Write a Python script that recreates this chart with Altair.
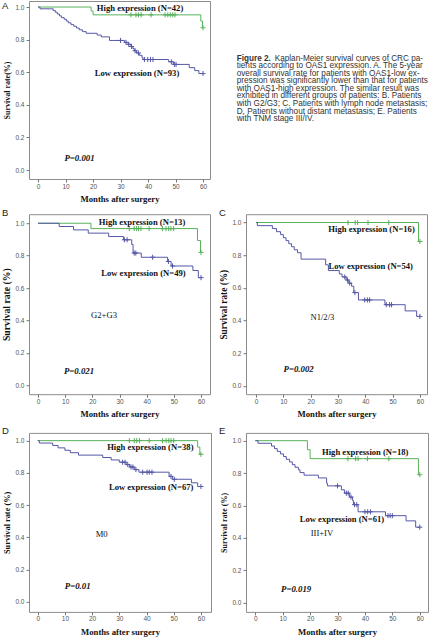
import altair as alt
import pandas as pd

GREEN = "#58b25a"
BLUE = "#5558a6"
SERIF = "Liberation Serif"
SANS = "Liberation Sans"

# ---------------- data ----------------
# Panel A
A_hi_t = [0, 19.3, 20.0, 59.2, 59.8, 60]
A_hi_s = [1.0, 0.976, 0.952, 0.914, 0.873, 0.873]
A_hi_c = [33.8, 35.6, 36.5, 37.5, 41.1, 46.2, 47.2, 48.1, 49.0, 49.8, 60]
A_lo_t = [0, 0.7, 5.5, 6.3, 7.0, 7.8, 8.5, 9.5, 10.3, 11.0, 12.0, 13.0, 14.0, 15.0, 16.2, 17.5,
          21.5, 23.0, 26.0, 31.5, 32.8, 33.8, 34.5, 35.0, 35.8, 36.8, 37.8, 38.2, 47.5, 49.2,
          55.0, 57.0, 58.5, 60]
A_lo_s = [1.0, 0.989, 0.978, 0.968, 0.957, 0.946, 0.935, 0.925, 0.914, 0.903, 0.892, 0.882,
          0.871, 0.860, 0.849, 0.839, 0.828, 0.817, 0.795, 0.783, 0.771, 0.758, 0.745, 0.732,
          0.718, 0.704, 0.690, 0.678, 0.664, 0.648, 0.628, 0.610, 0.592, 0.592]
A_lo_c = [30.0, 32.0, 33.0, 34.0, 35.3, 36.5, 38.7, 39.9, 40.9, 41.8, 48.5, 49.6, 50.2, 60]

# Panel B
B_hi_t = [0, 19.5, 58.7, 59.8, 60]
B_hi_s = [1.0, 0.967, 0.893, 0.820, 0.820]
B_hi_c = [33.6, 35.4, 36.3, 37.0, 37.9, 40.9, 45.8, 47.1, 48.1, 48.9, 49.9, 60]
B_lo_t = [0, 7.8, 13.1, 18.5, 26.0, 31.5, 34.5, 35.0, 38.0, 47.7, 49.0, 57.0, 59.0, 60]
B_lo_s = [1.0, 0.980, 0.959, 0.939, 0.918, 0.898, 0.869, 0.816, 0.790, 0.764, 0.736, 0.708,
          0.664, 0.664]
B_lo_c = [31.8, 32.8, 35.4, 36.0, 42.2, 48.0, 49.5, 60]

# Panel C
C_hi_t = [0, 59.5, 60]
C_hi_s = [1.0, 0.884, 0.884]
C_hi_c = [33.7, 36.3, 37.2, 41.0, 48.6, 60]
C_lo_t = [0, 0.5, 6.0, 7.5, 9.0, 10.0, 11.0, 12.0, 13.0, 14.0, 15.2, 16.5, 25.5, 26.5, 30.5,
          31.5, 33.0, 34.0, 35.0, 35.8, 37.5, 47.2, 54.6, 58.8, 60]
C_lo_s = [1.0, 0.981, 0.963, 0.944, 0.926, 0.907, 0.889, 0.870, 0.852, 0.833, 0.815, 0.776,
          0.741, 0.706, 0.685, 0.667, 0.648, 0.629, 0.610, 0.571, 0.526, 0.497, 0.459, 0.425,
          0.425]
C_lo_c = [32.5, 33.5, 34.3, 36.2, 39.8, 40.8, 41.6, 47.7, 48.9, 49.6, 60]

# Panel D
D_hi_t = [0, 58.8, 59.6, 60]
D_hi_s = [1.0, 0.960, 0.915, 0.915]
D_hi_c = [33.7, 35.5, 36.4, 37.4, 41.0, 45.9, 47.2, 48.2, 49.0, 50.0, 60]
D_lo_t = [0, 0.6, 5.5, 7.5, 10.0, 12.0, 15.0, 23.9, 27.0, 30.0, 32.5, 33.8, 35.5, 37.2, 48.3,
          49.5, 56.5, 58.8, 60]
D_lo_s = [1.0, 0.985, 0.970, 0.955, 0.940, 0.925, 0.910, 0.895, 0.880, 0.866, 0.851, 0.836,
          0.820, 0.804, 0.778, 0.760, 0.738, 0.715, 0.715]
D_lo_c = [31.2, 32.1, 33.1, 34.3, 35.0, 36.1, 38.6, 40.2, 41.0, 42.0, 49.0, 50.2, 60]

# Panel E
E_hi_t = [0, 19.0, 20.0, 59.5, 60]
E_hi_s = [1.0, 0.944, 0.889, 0.790, 0.790]
E_hi_c = [33.8, 36.6, 37.5, 40.9, 48.7, 60]
E_lo_t = [0, 1.0, 5.9, 7.0, 8.0, 9.2, 10.3, 11.3, 12.5, 13.5, 14.5, 15.7, 16.3, 17.8, 23.0,
          26.0, 26.3, 31.4, 32.5, 34.4, 35.5, 35.8, 37.5, 47.5, 55.0, 58.5, 60]
E_lo_s = [1.0, 0.984, 0.967, 0.951, 0.934, 0.918, 0.902, 0.885, 0.869, 0.852, 0.836, 0.820,
          0.803, 0.787, 0.770, 0.738, 0.721, 0.697, 0.676, 0.652, 0.630, 0.605, 0.561, 0.537,
          0.505, 0.466, 0.466]
E_lo_c = [30.0, 33.2, 33.9, 34.9, 36.2, 37.0, 40.0, 41.0, 42.0, 48.4, 49.2, 50.0, 60]

# annotations: text, x (months), y (survival), kind
A_ann = [("High expression (N=42)", 37.1, 0.992, "b"), ("Low expression (N=93)", 36.0, 0.595, "b"),
         ("P=0.001", 15.1, 0.075, "p")]
B_ann = [("High expression (N=13)", 38.3, 1.008, "b"), ("Low expression (N=49)", 38.8, 0.691, "b"),
         ("G2+G3", 24.3, 0.432, "n"), ("P=0.021", 15.1, 0.088, "p")]
C_ann = [("High expression (N=16)", 42.3, 0.961, "b"), ("Low expression (N=54)", 42.0, 0.734, "b"),
         ("N1/2/3", 24.3, 0.419, "n"), ("P=0.002", 15.6, 0.104, "p")]
D_ann = [("High expression (N=38)", 41.4, 0.963, "b"), ("Low expression (N=67)", 41.7, 0.714, "b"),
         ("M0", 23.5, 0.42, "n"), ("P=0.01", 14.7, 0.10, "p")]
E_ann = [("High expression (N=18)", 40.1, 0.932, "b"), ("Low expression (N=61)", 31.6, 0.514, "b"),
         ("III+IV", 24.3, 0.432, "n"), ("P=0.019", 14.9, 0.0845, "p")]

x_ticks = [0, 10, 20, 30, 40, 50, 60]
y_ticks = [0.0, 0.2, 0.4, 0.6, 0.8, 1.0]

caption_bold = "Figure 2."
caption_first = "Kaplan-Meier survival curves of CRC pa-"
caption_lines = [
    "tients according to OAS1 expression. A. The 5-year",
    "overall survival rate for patients with OAS1-low ex-",
    "pression was significantly lower than that for patients",
    "with OAS1-high expression. The similar result was",
    "exhibited in different groups of patients: B. Patients",
    "with G2/G3; C. Patients with lymph node metastasis;",
    "D. Patients without distant metastasis; E. Patients",
    "with TNM stage III/IV.",
]


def level(ts, ss, t):
    v = ss[0]
    for ti, si in zip(ts, ss):
        if ti <= t:
            v = si
    return v


def panel(letter, hi, lo, ann, ytitle, ytsize, xdom, ydom, w, h, letter_y):
    xs = alt.X("t:Q", scale=alt.Scale(domain=xdom, nice=False, zero=False),
               axis=alt.Axis(values=x_ticks, title="Months after surgery", titleFontSize=8.7,
                             titlePadding=5, labelPadding=1, labelOverlap=False,
                             labelFlush=False))
    ys = alt.Y("s:Q", scale=alt.Scale(domain=ydom, nice=False, zero=False),
               axis=alt.Axis(values=y_ticks, format=".1f", title=ytitle, titleFontSize=ytsize,
                             titlePadding=3, labelPadding=2, labelOverlap=False,
                             labelFlush=False))
    layers = []
    for (ts, ss, cs), col in ((hi, GREEN), (lo, BLUE)):
        cdf = pd.DataFrame({"t": ts, "s": ss})
        layers.append(alt.Chart(cdf).mark_line(interpolate="step-after", color=col,
                                               strokeWidth=1).encode(x=xs, y=ys))
        pdf = pd.DataFrame({"t": cs, "s": [level(ts, ss, c) for c in cs]})
        layers.append(alt.Chart(pdf).mark_point(shape="M0,-1L0,1M-1,0L1,0", filled=False,
                                                size=26, strokeWidth=1, color=col,
                                                opacity=1).encode(x=xs, y=ys))
    adf = pd.DataFrame(ann, columns=["label", "t", "s", "kind"])
    styles = {"b": dict(fontWeight="bold", fontStyle="normal", fontSize=8.6),
              "p": dict(fontWeight="bold", fontStyle="italic", fontSize=8.8),
              "n": dict(fontWeight="normal", fontStyle="normal", fontSize=8.6)}
    for k, st in styles.items():
        sub = adf[adf["kind"] == k]
        if len(sub):
            layers.append(alt.Chart(sub).mark_text(font=SERIF, color="#111", align="center",
                                                   baseline="middle", **st)
                          .encode(x=xs, y=ys, text="label:N"))
    # panel letter
    layers.append(alt.Chart(pd.DataFrame({"letter": [letter]})).mark_text(
        font=SANS, fontSize=9.5, color="#222", align="left", baseline="alphabetic").encode(
        x=alt.value(-27), y=alt.value(letter_y), text="letter:N"))
    return alt.layer(*layers).properties(width=w, height=h)


A = panel("A", (A_hi_t, A_hi_s, A_hi_c), (A_lo_t, A_lo_s, A_lo_c), A_ann, "Survival rate(%)", 8.0,
          [-3.3, 62.55], [-0.055, 1.037], 181, 178, 8)
B = panel("B", (B_hi_t, B_hi_s, B_hi_c), (B_lo_t, B_lo_s, B_lo_c), B_ann, "Survival rate (%)", 9.7,
          [-3.3, 63.3], [-0.056, 1.056], 181, 180, 1.5)
C = panel("C", (C_hi_t, C_hi_s, C_hi_c), (C_lo_t, C_lo_s, C_lo_c), C_ann, "Survival rate (%)", 9.3,
          [-3.66, 62.6], [-0.051, 1.051], 181, 180, 1.5)
D = panel("D", (D_hi_t, D_hi_s, D_hi_c), (D_lo_t, D_lo_s, D_lo_c), D_ann, "Survival rate (%)", 8.3,
          [-3.2, 63.7], [-0.064, 1.048], 182, 179, 1.5)
E = panel("E", (E_hi_t, E_hi_s, E_hi_c), (E_lo_t, E_lo_s, E_lo_c), E_ann, "Survival rate (%)", 8.0,
          [-3.4, 63.0], [-0.057, 1.048], 182, 179, 1.5)

cap_scale = alt.Scale(domain=[-7.6, 15.91], reverse=True, nice=False, zero=False)
cap_df = pd.DataFrame({"line": list(range(1, len(caption_lines) + 1)), "text": caption_lines})
cap_style = dict(align="left", baseline="middle", font=SANS, fontSize=8.2, color="#333")
cap_rest = alt.Chart(cap_df).mark_text(**cap_style).encode(
    x=alt.value(0), y=alt.Y("line:Q", scale=cap_scale, axis=None), text="text:N")
cap_first = alt.Chart(pd.DataFrame({"line": [0], "text": [caption_first]})).mark_text(
    dx=38, **cap_style).encode(
    x=alt.value(0), y=alt.Y("line:Q", scale=cap_scale, axis=None), text="text:N")
cap_b = alt.Chart(pd.DataFrame({"line": [0], "text": [caption_bold]})).mark_text(
    fontWeight="bold", **cap_style).encode(
    x=alt.value(0), y=alt.Y("line:Q", scale=cap_scale, axis=None), text="text:N")
caption = alt.layer(cap_b, cap_first, cap_rest).properties(
    width=196, height=178, view=alt.ViewBackground(strokeOpacity=0))

row1 = alt.hconcat(A, caption, spacing=25.7)
row2 = alt.hconcat(B, C, spacing=7)
row3 = alt.hconcat(D, E, spacing=6)
lower = alt.vconcat(row2, row3, spacing=6.7)

chart = alt.vconcat(row1, lower, spacing=3.2).properties(
    padding={"left": 1, "top": 0, "right": 0, "bottom": 0}
).configure_view(stroke="#8c8c8c", strokeWidth=1).configure_axis(
    labelFont=SANS, labelFontSize=6.5, labelColor="#555", tickColor="#777", tickSize=3,
    domain=False, grid=False, titleFont=SERIF, titleFontWeight="bold", titleColor="#111")

chart.save("out.html", embed_options={"renderer": "svg", "actions": False})
